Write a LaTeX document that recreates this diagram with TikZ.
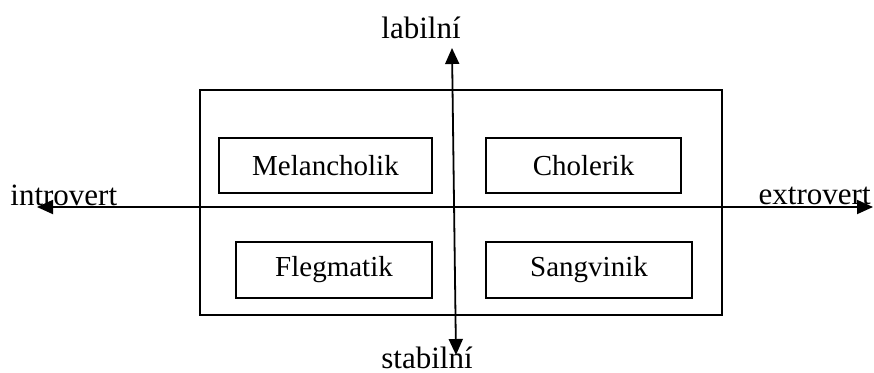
\documentclass[tikz,border=0pt]{standalone}
\usepackage{fontspec}
\setmainfont{Liberation Serif}
\usetikzlibrary{arrows.meta}

\begin{document}
\begin{tikzpicture}[x=0.5pt,y=-0.5pt,
    box/.style={draw, line width=0.9pt, inner sep=0pt, minimum height=27.5pt, font=\fontsize{14.5}{17}\selectfont},
    axis/.style={line width=0.9pt, {Triangle[length=8pt,width=7pt]}-{Triangle[length=8pt,width=7pt]}},
    pole/.style={inner sep=0pt, font=\fontsize{15.5}{18}\selectfont}]
\useasboundingbox (0,0) rectangle (874,372);
\node [draw, line width=0.9pt, minimum width=261pt, minimum height=112.5pt] (frame) at (461,202.5) {};
\node [box, minimum width=106.5pt] (mel) at (325.5,165.5) {Melancholik};
\node [box, minimum width=97.5pt] (chol) at (583.5,165.5) {Cholerik};
\node [box, minimum width=98pt, minimum height=28pt] (fleg) at (334,270) {Flegmatik};
\node [box, minimum width=103pt, minimum height=28pt] (sang) at (589,270) {Sangvinik};
\node [pole, anchor=base west] (intro) at (10,205) {introvert};
\node [pole, anchor=base east] (extro) at (871,204) {extrovert};
\node [pole, anchor=base] (lab) at (421,38) {labilní};
\node [pole, anchor=base] (stab) at (427,368) {stabilní};
\coordinate (left) at (37,207);
\coordinate (right) at (873,207);
\coordinate (top) at (452,48);
\coordinate (bottom) at (456,355);
\draw [axis] (left) -- (right);
\draw [axis] (top) -- (bottom);
\end{tikzpicture}
\end{document}
